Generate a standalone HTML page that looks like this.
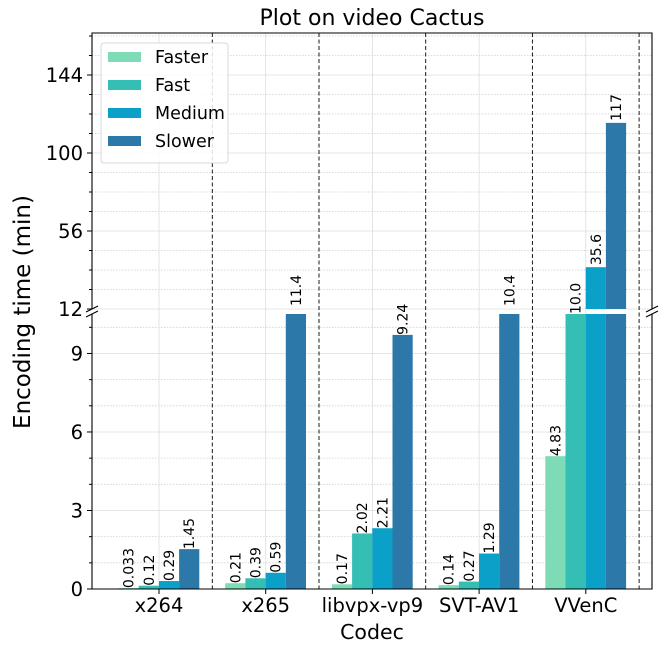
<!DOCTYPE html>
<html><head><meta charset="utf-8"><style>
body{margin:0;background:#fff;position:relative;}
svg{display:block;font-family:"DejaVu Sans","Liberation Sans",sans-serif;}
</style></head><body>
<svg id="chart" width="667" height="653" viewBox="0 0 667 653" xmlns="http://www.w3.org/2000/svg">
<g id="grid"></g><g id="bars"></g><g id="axes"></g><g id="labels"></g>
</svg>
<script>
const codecs = ["x264","x265","libvpx-vp9","SVT-AV1","VVenC"];
const seriesNames = ["Faster","Fast","Medium","Slower"];
const faster = [0.033,0.21,0.17,0.14,4.83];
const fast = [0.12,0.39,2.02,0.27,10.0];
const medium = [0.29,0.59,2.21,1.29,35.6];
const slower = [1.45,11.4,9.24,10.4,117];
const valueLabels = [
  ["0.033","0.21","0.17","0.14","4.83"],
  ["0.12","0.39","2.02","0.27","10.0"],
  ["0.29","0.59","2.21","1.29","35.6"],
  ["1.45","11.4","9.24","10.4","117"]];
const lowerTicks = [0,3,6,9];
const upperTicks = [12,56,100,144];
const colors = ["#7ddcb5","#35bfb4","#0aa0c8","#2c78a8"];

const NS="http://www.w3.org/2000/svg";
const L=92,R=652,TT=33,TB=309,BT=314,BB=589;
const xC=i=>159+106.7*i;
const BW=20.2;
const yLow=v=>BB-v*27.5;
const yLowTick=t=>BB-t*26.17;
const yUp=v=>TB-(v-12)*1.7727;
const LOWMAX=(BB-BT)/27.5;
function mk(tag,attrs,parent,text){const e=document.createElementNS(NS,tag);for(const k in attrs)e.setAttribute(k,attrs[k]);if(text!==undefined)e.textContent=text;parent.appendChild(e);return e;}
const grid=document.getElementById('grid'),bars=document.getElementById('bars'),axes=document.getElementById('axes'),labels=document.getElementById('labels');

for(let t=0;t<=10;t++){const y=yLowTick(t);if(y<BT)continue;mk('line',{x1:L,x2:R,y1:y,y2:y,stroke:t%3===0?'#dcdcdc':'#d0d0d0','stroke-width':0.8,'stroke-dasharray':t%3===0?'':'1.5,1.5'},grid);}
for(let v=12;v<=166;v+=11){const y=yUp(v);const major=(v-12)%44===0;mk('line',{x1:L,x2:R,y1:y,y2:y,stroke:major?'#dcdcdc':'#d0d0d0','stroke-width':0.8,'stroke-dasharray':major?'':'1.5,1.5'},grid);}
codecs.forEach((c,i)=>{mk('line',{x1:xC(i),x2:xC(i),y1:TT,y2:BB,stroke:'#dcdcdc','stroke-width':0.8},grid);});

const series=[faster,fast,medium,slower];
series.forEach((s,si)=>{s.forEach((v,i)=>{
  const x=xC(i)-40.5+si*BW;
  const top=Math.max(yLow(v),BT);
  const b=mk('rect',{x:x,y:top,width:BW,height:BB-top,fill:colors[si]},bars);
  
  
  let base;
  if(v>12){const ut=yUp(v);const b2=mk('rect',{x:x,y:ut,width:BW,height:TB-ut,fill:colors[si]},bars);
    
    
    base=ut-2;}
  else if(v>LOWMAX+0.05){base=306;}
  else base=Math.max(yLow(v),313);
  const tx=x+BW/2+5;
  const t=mk('text',{x:tx,y:base,transform:`rotate(-90 ${tx} ${base})`,'font-size':14,fill:'#000'},labels,valueLabels[si][i]);
  
  
});});

for(let i=0;i<5;i++){const x=xC(i)+53.3;mk('line',{x1:x,x2:x,y1:TT,y2:BB,stroke:'#000','stroke-width':0.9,'stroke-dasharray':'4,2.5'},axes);}
mk('path',{d:`M${L},${TB} V${TT} H${R} V${TB}`,fill:'none',stroke:'#000','stroke-width':1.1},axes);
mk('path',{d:`M${L},${BT} V${BB} H${R} V${BT}`,fill:'none',stroke:'#000','stroke-width':1.1},axes);
[[L,TB],[L,BT],[R,TB],[R,BT]].forEach(p=>mk('line',{x1:p[0]-6,y1:p[1]+3,x2:p[0]+6,y2:p[1]-3,stroke:'#000','stroke-width':1.1},axes));
lowerTicks.forEach(t=>{const y=yLowTick(t);mk('line',{x1:L-5,x2:L,y1:y,y2:y,stroke:'#000'},axes);
  const e=mk('text',{x:L-9,y:y+7,'text-anchor':'end','font-size':19.5},labels,String(t));
  });
for(let t=1;t<=10;t++){if(t%3===0)continue;const y=yLowTick(t);if(y<BT)continue;mk('line',{x1:L-3,x2:L,y1:y,y2:y,stroke:'#000'},axes);}
upperTicks.forEach(t=>{const y=yUp(t);mk('line',{x1:L-5,x2:L,y1:y,y2:y,stroke:'#000'},axes);
  const e=mk('text',{x:L-9,y:y+7,'text-anchor':'end','font-size':19.5},labels,String(t));
  });
for(let v=23;v<=166;v+=11){if((v-12)%44===0)continue;const y=yUp(v);mk('line',{x1:L-3,x2:L,y1:y,y2:y,stroke:'#000'},axes);}
codecs.forEach((c,i)=>{mk('line',{x1:xC(i),x2:xC(i),y1:BB,y2:BB+5,stroke:'#000'},axes);
  const e=mk('text',{x:xC(i),y:612,'text-anchor':'middle','font-size':19.5},labels,c);
  });
</script>
<svg style="position:absolute;left:0;top:0" width="667" height="653" xmlns="http://www.w3.org/2000/svg" font-family="DejaVu Sans, Liberation Sans, sans-serif">
<text x="372" y="25" text-anchor="middle" font-size="22">Plot on video Cactus</text>
<text x="372" y="639" text-anchor="middle" font-size="20.5">Codec</text>
<text x="30" y="312" text-anchor="middle" font-size="23" transform="rotate(-90 30 312)">Encoding time (min)</text>
<g>
<rect x="101" y="43" width="127" height="120" rx="3" fill="#fff" fill-opacity="0.85" stroke="#d8d8d8"/>
<rect x="108" y="52" width="33" height="10" fill="#7ddcb5"/><text x="155" y="63" font-size="17.5">Faster</text>
<rect x="108" y="80" width="33" height="10" fill="#35bfb4"/><text x="155" y="91" font-size="17.5">Fast</text>
<rect x="108" y="108" width="33" height="10" fill="#0aa0c8"/><text x="155" y="119" font-size="17.5">Medium</text>
<rect x="108" y="136" width="33" height="10" fill="#2c78a8"/><text x="155" y="147" font-size="17.5">Slower</text>
</g>
</svg>
</body></html>
